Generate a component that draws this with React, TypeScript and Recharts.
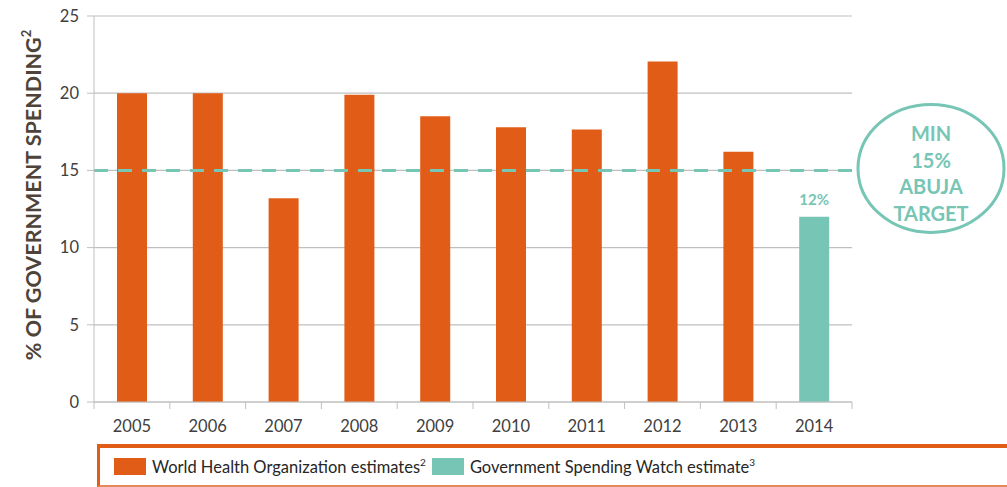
import React from 'react';
import { BarChart, Bar, XAxis, YAxis, CartesianGrid, ReferenceLine, LabelList, Legend } from 'recharts';

const years = ['2005', '2006', '2007', '2008', '2009', '2010', '2011', '2012', '2013', '2014'];
const whoValues = [20.0, 20.0, 13.2, 19.9, 18.5, 17.8, 17.65, 22.05, 16.2, null];
const gswValues = [null, null, null, null, null, null, null, null, null, 12];
const yTicks = [0, 5, 10, 15, 20, 25];
const abujaTarget = 15;
const targetLines = ['MIN', '15%', 'ABUJA', 'TARGET'];

const ORANGE = '#E15C17';
const TEAL = '#76C5B5';
const GRID = '#BFBFBF';
const FONT = "Lato, 'Open Sans', sans-serif";
const TICK_SIZE = 7;
const TICK_MARGIN = 11;

const data = years.map((y, i) => ({ year: y, who: whoValues[i], gsw: gswValues[i] }));

const XTick = (props: any) => {
  const { x, y, payload, index } = props;
  const axisY = y - TICK_SIZE - TICK_MARGIN;
  const half = payload.offset || 0;
  return (
    <g>
      <line x1={x - half} x2={x - half} y1={axisY} y2={axisY + TICK_SIZE} stroke={GRID} />
      {index === years.length - 1 && (
        <line x1={x + half} x2={x + half} y1={axisY} y2={axisY + TICK_SIZE} stroke={GRID} />
      )}
      <text x={x} y={y} dy="0.71em" textAnchor="middle" fill="#404040" fontSize={16.5} fontFamily={FONT}>
        {payload.value}
      </text>
    </g>
  );
};

const YLabel = (props: any) => {
  const vb = props.viewBox || {};
  const cx = 41;
  const cy = vb.y + vb.height / 2 - 14;
  return (
    <text
      transform={`rotate(-90, ${cx}, ${cy})`}
      x={cx}
      y={cy}
      textAnchor="middle"
      fill="#4D4339"
      fontSize={21.5}
      fontWeight={700}
      fontFamily={FONT}
    >
      % OF GOVERNMENT SPENDING
      <tspan fontSize={13} dy={-10}>2</tspan>
    </text>
  );
};

const TargetCircle = (props: any) => {
  const vb = props.viewBox || {};
  const cx = vb.x + vb.width + 79;
  const cy = vb.y - 2;
  return (
    <g>
      <ellipse cx={cx} cy={cy} rx={73} ry={64} fill="#fff" stroke={TEAL} strokeWidth={3} />
      {targetLines.map((t, i) => (
        <text
          key={t}
          x={cx}
          y={cy - 34 + i * 26.5 + 7}
          textAnchor="middle"
          fill={TEAL}
          fontSize={20}
          fontWeight={700}
          fontFamily={FONT}
        >
          {t}
        </text>
      ))}
    </g>
  );
};

const LegendBox = () => (
  <div
    style={{
      boxSizing: 'border-box',
      width: 920,
      height: 43,
      borderTop: `4px solid ${ORANGE}`,
      borderLeft: `3px solid ${ORANGE}`,
      borderBottom: `2px solid #E8875A`,
      display: 'flex',
      alignItems: 'center',
      paddingLeft: 14,
      fontFamily: FONT,
      fontSize: 16.5,
      color: '#262626',
    }}
  >
    <span style={{ width: 32, height: 17, background: ORANGE, display: 'inline-block', marginRight: 6 }} />
    <span>World Health Organization estimates<sup style={{ fontSize: 10 }}>2</sup></span>
    <span style={{ width: 32, height: 17, background: TEAL, display: 'inline-block', marginLeft: 6, marginRight: 6 }} />
    <span>Government Spending Watch estimate<sup style={{ fontSize: 10 }}>3</sup></span>
  </div>
);

export default function App() {
  return (
    <div style={{ position: 'absolute', left: 0, top: 0, width: 1007, height: 487, overflow: 'hidden', background: '#fff' }}>
      <BarChart
        width={1007}
        height={487}
        data={data}
        margin={{ top: 16, right: 155, bottom: 0, left: 34 }}
        barCategoryGap={0}
      >
        <CartesianGrid vertical={false} stroke={GRID} strokeWidth={1.2} />
        <XAxis
          dataKey="year"
          stroke={GRID}
          tickLine={false}
          tickSize={TICK_SIZE}
          tickMargin={TICK_MARGIN}
          height={41}
          tick={<XTick />}
          interval={0}
        />
        <YAxis
          domain={[0, 25]}
          ticks={yTicks}
          width={60}
          stroke={GRID}
          tickSize={TICK_SIZE}
          tickMargin={8}
          tick={{ fill: '#404040', fontSize: 16.5, fontFamily: FONT }}
          label={<YLabel />}
        />
        <Legend
          verticalAlign="bottom"
          height={44}
          wrapperStyle={{ left: 97, top: 444, width: 920 }}
          content={<LegendBox />}
        />
        <Bar dataKey="who" stackId="a" fill={ORANGE} barSize={30} isAnimationActive={false} />
        <Bar dataKey="gsw" stackId="a" fill={TEAL} barSize={30} isAnimationActive={false}>
          <LabelList
            dataKey="gsw"
            position="top"
            offset={12}
            formatter={(v: any) => (v == null ? '' : `${v}%`)}
            fill={TEAL}
            fontSize={15}
            fontWeight={700}
            fontFamily={FONT}
          />
        </Bar>
        <ReferenceLine
          y={abujaTarget}
          stroke={TEAL}
          strokeWidth={3}
          strokeDasharray="14 10"
          label={<TargetCircle />}
        />
      </BarChart>
    </div>
  );
}
